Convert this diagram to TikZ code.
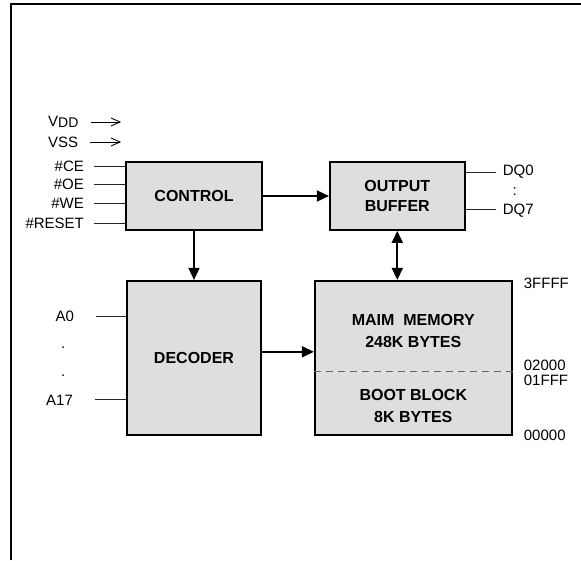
\documentclass[tikz,border=0pt]{standalone}
\usepackage{fontspec}
\setmainfont{Liberation Sans}
\usetikzlibrary{positioning,arrows.meta}

\begin{document}
\begin{tikzpicture}[x=1pt, y=-1pt, node distance=49pt and 66pt,
    block/.style={rectangle, draw, line width=1.8pt, fill=black!13, align=center, inner sep=0pt, font=\fontsize{16}{20}\selectfont\bfseries},
    memtext/.style={align=center, inner sep=0pt, font=\fontsize{16}{22}\selectfont\bfseries},
    pinlabel/.style={inner sep=0pt, font=\fontsize{15}{18}\selectfont},
    pinline/.style={line width=0.9pt, black!85},
    flow/.style={line width=1.8pt, -{Triangle[length=12pt,width=11pt]}},
    supply/.style={line width=0.9pt, -{Straight Barb[length=9pt,width=8pt]}}]

  \useasboundingbox (0,0) rectangle (581,560);
  \draw[line width=2pt] (11,560) -- (11,4) -- (581,4);

  % blocks
  \node (control) [block, minimum width=136pt, minimum height=68pt] at (194,196) {CONTROL};
  \node (buffer) [block, minimum width=135pt, minimum height=68pt, right=66pt of control] {OUTPUT\\BUFFER};
  \node (decoder) [block, minimum width=134pt, minimum height=154pt, below=49pt of control] {DECODER};
  \node (memory) [block, minimum width=197pt, minimum height=154pt, right=52pt of decoder] {};

  \node (mainmem) [memtext] at ([yshift=-51pt]memory.north) {MAIM\ \ MEMORY\\248K BYTES};
  \node (bootblk) [memtext] at ([yshift=30pt]memory.south) {BOOT BLOCK\\8K BYTES};
  \draw[dash pattern=on 7pt off 5pt, black!60, line width=0.9pt] ([yshift=-92pt]memory.north west) -- ([yshift=-92pt]memory.north east);

  % arrows between blocks
  \draw[flow] (control) -- (buffer);
  \draw[flow] (control) -- (decoder);
  \draw[flow, {Triangle[length=12pt,width=11pt]}-{Triangle[length=12pt,width=11pt]}] (buffer.south) -- (buffer.south |- memory.north);
  \draw[flow] ([yshift=6pt]decoder.east) -- ([yshift=6pt]decoder.east -| memory.west);

  % supply
  \node (vdd) [pinlabel, anchor=west] at (48,122) {V\raisebox{-1.5pt}{\fontsize{14}{14}\selectfont DD}};
  \node (vss) [pinlabel, anchor=west] at (48,142) {VSS};
  \draw[supply, shorten <=12pt, shorten >=4pt] (vdd.east) -- (vdd.east -| control.west);
  \draw[supply, shorten <=12pt, shorten >=4pt] (vss.east) -- (vss.east -| control.west);

  % control inputs
  \foreach \name/\txt/\dy in {ce/\#CE/30, oe/\#OE/12, we/\#WE/-7, reset/\#RESET/-27} {
    \node (\name) [pinlabel, anchor=east] at ([xshift=-41pt, yshift=\dy pt]control.west) {\txt};
    \draw[pinline, shorten <=10pt] (\name.east) -- (\name.east -| control.west);
  }

  % data outputs
  \node (dq0) [pinlabel, anchor=west] at ([xshift=37pt, yshift=24pt]buffer.east) {DQ0};
  \node (dq7) [pinlabel, anchor=west] at ([xshift=37pt, yshift=-15pt]buffer.east) {DQ7};
  \node (dqdots) [pinlabel] at ([xshift=49pt, yshift=4pt]buffer.east) {:};
  \draw[pinline, shorten <=7pt] (dq0.west) -- (dq0.west -| buffer.east);
  \draw[pinline, shorten <=7pt] ([yshift=2pt]dq7.west) -- ([yshift=2pt]dq7.west -| buffer.east);

  % address inputs
  \node (a0) [pinlabel, anchor=east] at ([xshift=-52pt, yshift=41pt]decoder.west) {A0};
  \node (a17) [pinlabel, anchor=east] at ([xshift=-53pt, yshift=-43pt]decoder.west) {A17};
  \node (adot1) [pinlabel] at ([xshift=-63pt, yshift=10pt]decoder.west) {.};
  \node (adot2) [pinlabel] at ([xshift=-63pt, yshift=-18pt]decoder.west) {.};
  \draw[pinline, shorten <=22pt] (a0.east) -- (a0.east -| decoder.west);
  \draw[pinline, shorten <=22pt] ([yshift=1pt]a17.east) -- ([yshift=1pt]a17.east -| decoder.west);

  % memory map addresses
  \node (addrtop) [pinlabel, anchor=west] at ([xshift=11pt, yshift=-3pt]memory.north east) {3FFFF};
  \node (addrsplit) [pinlabel, anchor=west, align=left, font=\fontsize{15}{15}\selectfont] at ([xshift=11pt, yshift=-93pt]memory.north east) {02000\\01FFF};
  \node (addrbot) [pinlabel, anchor=west] at ([xshift=11pt]memory.south east) {00000};
\end{tikzpicture}
\end{document}
